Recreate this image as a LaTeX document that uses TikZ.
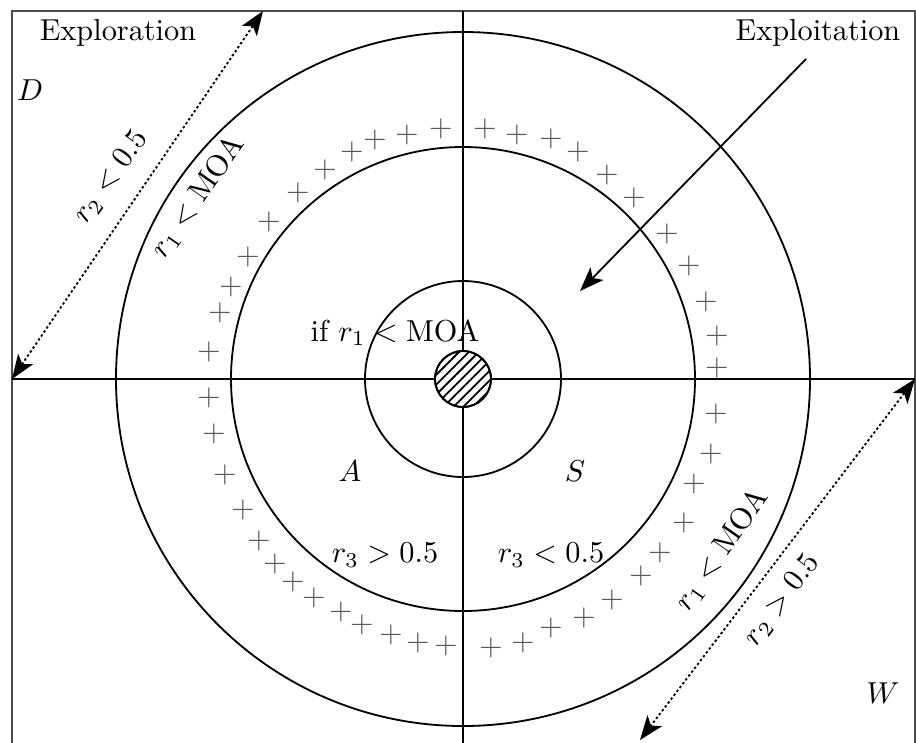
\documentclass[tikz,border=0pt]{standalone}
\usetikzlibrary{arrows.meta,patterns.meta}
\begin{document}
\begin{tikzpicture}[x=0.33pt,y=0.33pt,>={Stealth[length=8pt,width=6pt,inset=2pt]},
  ring/.style={semithick},
  plus/.style={text=black!65,inner sep=0pt},
  lbl/.style={inner sep=1pt},
  rlbl/.style={inner sep=0pt},
  dotarrow/.style={<->,semithick,dash pattern=on 0.8pt off 0.8pt}]
  \useasboundingbox (-463,-363) rectangle (453,379);
  % frame and axes
  \draw[black!70,thick] (-451,-370)--(-451,368)--(452,368)--(452,-370);
  \coordinate (L) at (-451,0);
  \coordinate (R) at (452,0);
  \coordinate (T) at (0,368);
  \coordinate (B) at (0,-370);
  \draw[ring] (L)--(R) (T)--(B);
  % circles
  \draw[ring] (0,0) circle (347);
  \draw[ring] (0,0) circle (232);
  \draw[ring] (0,0) circle (98);
  \draw[ring,fill=white] (0,0) circle (28);
  \fill[pattern={Lines[angle=45,distance=2.3pt,line width=0.6pt]}] (0,0) circle (28);
  \draw[ring] (0,0) circle (28);
  % ring of plus signs
  \foreach \x/\y [count=\i] in {-254/27,-243/66,-232/92,-215/122,-194/157,-165/186,
      -138/209,-111/227,-88/239,-56/244,-22/250,22/250,54/244,88/240,115/227,
      144/204,171/181,204/145,226/113,243/77,254/43,254/11,253/-35,248/-75,
      231/-105,221/-144,197/-174,178/-197,149/-221,121/-239,88/-249,60/-264,
      28/-269,-17/-267,-45/-264,-72/-256,-101/-246,-122/-233,-149/-219,
      -170/-203,-188/-185,-204/-162,-220/-131,-238/-96,-249/-55,-254/-19}
    \node[plus] (p\i) at (\x,\y) {$+$};
  % dotted arrows
  \coordinate (tl) at (-200,368);
  \draw[dotarrow] (L)--(tl);
  \coordinate (br) at (177,-361);
  \draw[dotarrow] (R)--(br);
  % exploitation arrow
  \coordinate (ex1) at (343,320);
  \coordinate (ex2) at (117,88);
  \draw[->,semithick] (ex1)--(ex2);
  % labels
  \node[lbl] (explor) at (-345,346) {Exploration};
  \node[lbl] (exploit) at (355,346) {Exploitation};
  \node[lbl] (D) at (-433,289) {$D$};
  \node[lbl] (W) at (420,-314) {$W$};
  \node[lbl] (A) at (-113,-92) {$A$};
  \node[lbl] (S) at (112,-92) {$S$};
  \node[lbl] (rthreeA) at (-78,-176) {$r_3>0.5$};
  \node[lbl] (rthreeS) at (88,-176) {$r_3<0.5$};
  \node[lbl] (ifmoa) at (-68,46) {if $r_1<\mathrm{MOA}$};
  \node[rlbl,rotate=54] (rtwoD) at (-352,202) {$r_2<0.5$};
  \node[rlbl,rotate=55] (roneD) at (-265,182) {$r_1<\mathrm{MOA}$};
  \node[rlbl,rotate=55] (roneW) at (259,-171) {$r_1<\mathrm{MOA}$};
  \node[rlbl,rotate=53] (rtwoW) at (319,-221) {$r_2>0.5$};
\end{tikzpicture}
\end{document}
